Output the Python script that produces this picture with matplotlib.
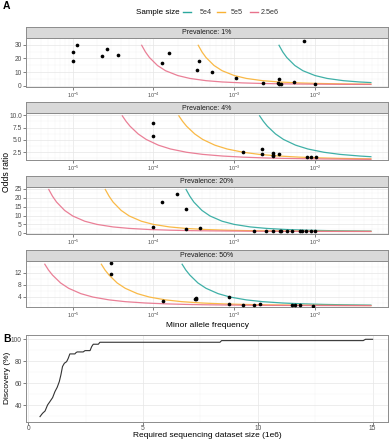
import matplotlib
matplotlib.use("Agg")
import matplotlib.pyplot as plt
import matplotlib.ticker as mticker
import numpy as np

# ---- data: panel A, odds ratio curves per sample size ----
prevalence = ["Prevalence: 1%", "Prevalence: 4%", "Prevalence: 20%", "Prevalence: 50%"]
sample_sizes = ["5e4", "5e5", "2.5e6"]

# panel 1 (1%)
p1_maf_5e4 = [3.55e-3, 3.98e-3, 4.47e-3, 5.62e-3, 7.08e-3, 1e-2, 1.41e-2, 2.24e-2, 3.55e-2, 0.05]
p1_or_5e4 = [30, 24.8, 20.7, 14.9, 11.1, 7.59, 5.50, 3.87, 2.93, 2.47]
p1_maf_5e5 = [3.55e-4, 3.98e-4, 4.47e-4, 5.62e-4, 7.08e-4, 1e-3, 1.41e-3, 2.24e-3, 3.55e-3, 6.31e-3,
              1.12e-2, 2.00e-2, 3.55e-2, 0.05]
p1_or_5e5 = [30, 24.8, 20.7, 14.9, 11.1, 7.59, 5.50, 3.87, 2.93, 2.24, 1.83, 1.57, 1.40, 1.33]
p1_maf_25e6 = [7.08e-5, 7.94e-5, 8.91e-5, 1.12e-4, 1.41e-4, 2.00e-4, 2.82e-4, 4.47e-4, 7.08e-4, 1.26e-3,
               2.24e-3, 3.98e-3, 7.08e-3, 2.24e-2, 0.05]
p1_or_25e6 = [30, 24.8, 20.7, 14.9, 11.1, 7.59, 5.50, 3.87, 2.93, 2.24, 1.83, 1.57, 1.40, 1.21, 1.14]

# panel 2 (4%)
p2_maf_5e4 = [2.04e-3, 2.29e-3, 2.57e-3, 3.24e-3, 4.07e-3, 5.75e-3, 8.13e-3, 1.29e-2, 2.04e-2, 3.63e-2, 0.05]
p2_or_5e4 = [10, 8.79, 7.78, 6.22, 5.10, 3.94, 3.17, 2.50, 2.07, 1.73, 1.59]
p2_maf_5e5 = [2.04e-4, 2.29e-4, 2.57e-4, 3.24e-4, 4.07e-4, 5.75e-4, 8.13e-4, 1.29e-3, 2.04e-3, 3.63e-3,
              6.46e-3, 1.15e-2, 2.04e-2, 0.05]
p2_or_5e5 = [10, 8.79, 7.78, 6.22, 5.10, 3.94, 3.17, 2.50, 2.07, 1.73, 1.51, 1.36, 1.26, 1.16]
p2_maf_25e6 = [4.07e-5, 4.57e-5, 5.13e-5, 6.46e-5, 8.13e-5, 1.15e-4, 1.62e-4, 2.57e-4, 4.07e-4, 7.24e-4,
               1.29e-3, 2.29e-3, 4.07e-3, 1.29e-2, 4.07e-2, 0.05]
p2_or_25e6 = [10, 8.79, 7.78, 6.22, 5.10, 3.94, 3.17, 2.50, 2.07, 1.73, 1.51, 1.36, 1.26, 1.14, 1.076, 1.068]

# panel 3 (20%)
p3_maf_5e4 = [2.51e-4, 2.82e-4, 3.16e-4, 3.98e-4, 5.01e-4, 7.08e-4, 1e-3, 1.58e-3, 2.51e-3, 4.47e-3,
              7.94e-3, 1.41e-2, 2.51e-2, 0.05]
p3_or_5e4 = [25, 20.9, 17.6, 12.9, 9.77, 6.81, 5.02, 3.60, 2.77, 2.14, 1.77, 1.53, 1.38, 1.26]
p3_maf_5e5 = [2.51e-5, 2.82e-5, 3.16e-5, 3.98e-5, 5.01e-5, 7.08e-5, 1e-4, 1.58e-4, 2.51e-4, 4.47e-4,
              7.94e-4, 1.41e-3, 2.51e-3, 7.94e-3, 2.51e-2, 0.05]
p3_or_5e5 = [25, 20.9, 17.6, 12.9, 9.77, 6.81, 5.02, 3.60, 2.77, 2.14, 1.77, 1.53, 1.38, 1.20, 1.107, 1.075]
p3_maf_25e6 = [5.01e-6, 5.62e-6, 6.31e-6, 7.94e-6, 1e-5, 1.41e-5, 2.00e-5, 3.16e-5, 5.01e-5, 8.91e-5,
               1.58e-4, 2.82e-4, 5.01e-4, 1.58e-3, 5.01e-3, 1.58e-2, 0.05]
p3_or_25e6 = [25, 20.9, 17.6, 12.9, 9.77, 6.81, 5.02, 3.60, 2.77, 2.14, 1.77, 1.53, 1.38, 1.20, 1.107,
              1.059, 1.033]

# panel 4 (50%)
p4_maf_5e4 = [2.24e-4, 2.51e-4, 2.82e-4, 3.55e-4, 4.47e-4, 6.31e-4, 8.91e-4, 1.41e-3, 2.24e-3, 3.98e-3,
              7.08e-3, 1.26e-2, 2.24e-2, 0.05]
p4_or_5e4 = [15, 12.9, 11.2, 8.58, 6.80, 5.02, 3.88, 2.94, 2.35, 1.90, 1.62, 1.43, 1.31, 1.20]
p4_maf_5e5 = [2.24e-5, 2.51e-5, 2.82e-5, 3.55e-5, 4.47e-5, 6.31e-5, 8.91e-5, 1.41e-4, 2.24e-4, 3.98e-4,
              7.08e-4, 1.26e-3, 2.24e-3, 7.08e-3, 2.24e-2, 0.05]
p4_or_5e5 = [15, 12.9, 11.2, 8.58, 6.80, 5.02, 3.88, 2.94, 2.35, 1.90, 1.62, 1.43, 1.31, 1.16, 1.089, 1.059]
p4_maf_25e6 = [4.47e-6, 5.01e-6, 5.62e-6, 7.08e-6, 8.91e-6, 1.26e-5, 1.78e-5, 2.82e-5, 4.47e-5, 7.94e-5,
               1.41e-4, 2.51e-4, 4.47e-4, 1.41e-3, 4.47e-3, 1.41e-2, 4.47e-2, 0.05]
p4_or_25e6 = [15, 12.9, 11.2, 8.58, 6.80, 5.02, 3.88, 2.94, 2.35, 1.90, 1.62, 1.43, 1.31, 1.16, 1.089,
              1.049, 1.027, 1.026]

# observed variants (points)
p1_pts_maf = [1e-5, 1e-5, 1.13e-5, 2.28e-5, 2.66e-5, 3.63e-5, 1.28e-4, 1.57e-4, 3.47e-4, 3.67e-4, 5.3e-4,
              1.05e-3, 2.25e-3, 3.6e-3, 3.5e-3, 3.6e-3, 3.8e-3, 5.5e-3, 7.4e-3, 1e-2]
p1_pts_or = [25, 18.4, 30, 21.8, 27.1, 22.5, 16.7, 24.2, 11.9, 17.9, 9.9,
             6.0, 1.9, 5.3, 2.4, 1.5, 1.7, 2.9, 32.4, 1.7]
p2_pts_maf = [1e-4, 1e-4, 1.27e-3, 2.23e-3, 2.23e-3, 3.05e-3, 3.05e-3, 3.05e-3, 3.62e-3, 8.05e-3, 8.9e-3, 1.03e-2]
p2_pts_or = [8.38, 5.81, 2.5, 3.1, 2.1, 2.36, 1.95, 1.76, 2.1, 1.62, 1.49, 1.49]
p3_pts_maf = [1e-4, 1.28e-4, 1.94e-4, 2.5e-4, 2.5e-4, 3.78e-4, 1.77e-3, 2.46e-3, 3.05e-3, 3.7e-3, 3.8e-3,
              4.55e-3, 5.25e-3, 6.53e-3, 6.8e-3, 7.8e-3, 8.8e-3, 1e-2]
p3_pts_or = [3.4, 17.9, 22.4, 13.7, 2.26, 2.8, 1.3, 1.2, 1.3, 1.15, 1.25,
             1.2, 1.15, 1.1, 1.2, 1.25, 1.15, 1.1]
p4_pts_maf = [2.95e-5, 2.95e-5, 1.3e-4, 3.36e-4, 3.4e-4, 3.3e-4, 8.63e-4, 8.63e-4, 1.27e-3, 1.77e-3, 2.09e-3,
              5.2e-3, 5.7e-3, 6.6e-3, 9.55e-3]
p4_pts_or = [15.2, 11.7, 2.56, 3.44, 3.1, 3.3, 3.78, 1.44, 1.22, 1.22, 1.44,
             1.1, 1.1, 1.1, 1.05]

# ---- data: panel B ----
dataset_size = [0.51, 0.62, 0.73, 0.84, 0.94, 1.06, 1.16, 1.26, 1.35, 1.42, 1.49, 1.57, 1.67, 1.74, 1.81,
                2.03, 2.08, 2.13, 2.39, 2.47, 2.69, 2.76, 2.83, 3.05, 3.12, 8.35, 8.42, 14.59, 14.69, 15.0]
discovery = [29.7, 32.7, 34.8, 40.3, 43.3, 47.0, 52.4, 56.4, 61.5, 67.6, 75.2, 78.2, 79.7, 82.7, 86.7,
             86.7, 87.9, 88.5, 88.5, 89.7, 89.7, 93.3, 95.5, 95.5, 97.3, 97.3, 98.8, 98.8, 100, 100]

colors = ["#2BA89E", "#F9B233", "#E8728C"]
W, H = 390, 440
fig = plt.figure(figsize=(W / 100, H / 100), dpi=100)
plt.rcParams['font.family'] = ['Liberation Sans', 'DejaVu Sans']

tick_col = "#4D4D4D"
border_col = "#8C8C8C"


def px_axes(left, top, right, bottom):
    return fig.add_axes([left / W, 1 - bottom / H, (right - left) / W, (bottom - top) / H])


def style_axes(ax):
    for s in ax.spines.values():
        s.set_color(border_col)
        s.set_linewidth(0.7)
    ax.tick_params(which='major', length=2, width=0.5, color=tick_col, labelsize=4.8,
                   labelcolor=tick_col, pad=1.0)
    ax.tick_params(which='minor', length=0)
    ax.grid(which='major', color="#E6E6E6", lw=0.5)
    ax.grid(which='minor', color="#F2F2F2", lw=0.3)
    ax.set_axisbelow(True)


panels = [
    dict(curves=[(p1_maf_5e4, p1_or_5e4), (p1_maf_5e5, p1_or_5e5), (p1_maf_25e6, p1_or_25e6)],
         pts=(p1_pts_maf, p1_pts_or), ylim=(-0.73, 34.9), yticks=[0, 10, 20, 30],
         ylab=["0", "10", "20", "30"], box=(38, 87)),
    dict(curves=[(p2_maf_5e4, p2_or_5e4), (p2_maf_5e5, p2_or_5e5), (p2_maf_25e6, p2_or_25e6)],
         pts=(p2_pts_maf, p2_pts_or), ylim=(0.83, 10.37), yticks=[2.5, 5.0, 7.5, 10.0],
         ylab=["2.5", "5.0", "7.5", "10.0"], box=(113.5, 160.5)),
    dict(curves=[(p3_maf_5e4, p3_or_5e4), (p3_maf_5e5, p3_or_5e5), (p3_maf_25e6, p3_or_25e6)],
         pts=(p3_pts_maf, p3_pts_or), ylim=(-0.38, 26.1), yticks=[0, 5, 10, 15, 20, 25],
         ylab=["0", "5", "10", "15", "20", "25"], box=(187, 234)),
    dict(curves=[(p4_maf_5e4, p4_or_5e4), (p4_maf_5e5, p4_or_5e5), (p4_maf_25e6, p4_or_25e6)],
         pts=(p4_pts_maf, p4_pts_or), ylim=(0.57, 15.9), yticks=[4, 8, 12],
         ylab=["4", "8", "12"], box=(261, 307)),
]

for i, p in enumerate(panels):
    top, bottom = p['box']
    ax = px_axes(26, top, 388, bottom)
    for (mx, oy), c in zip(p['curves'], colors):
        ax.plot(mx, oy, color=c, lw=0.9, alpha=0.9, solid_capstyle='butt')
    ax.scatter(p['pts'][0], p['pts'][1], s=7, color='black', zorder=5, linewidths=0)
    ax.set_xscale('log')
    ax.set_xlim(2.64e-6, 0.080)
    ax.set_ylim(*p['ylim'])
    ax.set_xticks([1e-5, 1e-4, 1e-3, 1e-2])
    ax.xaxis.set_major_formatter(mticker.LogFormatterMathtext())
    ax.xaxis.set_minor_locator(mticker.LogLocator(base=10, subs=np.arange(2, 10), numticks=20))
    ax.xaxis.set_minor_formatter(mticker.NullFormatter())
    ax.set_yticks(p['yticks'])
    ax.set_yticklabels(p['ylab'])
    ax.yaxis.set_minor_locator(mticker.AutoMinorLocator(2))
    style_axes(ax)
    ax.tick_params(axis='x', labelsize=4.0, pad=0.5)
    # facet strip
    sax = px_axes(26, top - 11, 388, top)
    sax.set_facecolor("#D9D9D9")
    sax.set_xticks([])
    sax.set_yticks([])
    for s in sax.spines.values():
        s.set_color(border_col)
        s.set_linewidth(0.7)
    sax.text(0.5, 0.5, prevalence[i], ha='center', va='center', fontsize=5, color="#1A1A1A",
             transform=sax.transAxes)

fig.text(7 / W, 1 - 172 / H, "Odds ratio", rotation=90, ha='center', va='center', fontsize=6.2)
fig.text(207 / W, 1 - 325 / H, "Minor allele frequency", ha='center', va='center', fontsize=6.0)

# legend
fig.text(158 / W, 1 - 12 / H, "Sample size", ha='center', va='center', fontsize=5.8)
leg_items = [(183, 200, "5e4"), (217, 231, "5e5"), (250, 261, "2.5e6")]
for (x0, tx, lab), c in zip(leg_items, colors):
    fig.add_artist(plt.Line2D([x0 / W, (x0 + 8) / W], [1 - 12 / H, 1 - 12 / H], color=c, lw=1.0))
    fig.text(tx / W, 1 - 12 / H, lab, ha='left', va='center', fontsize=5.2, color="#333333")

fig.text(3 / W, 1 - 6 / H, "A", fontsize=7.5, fontweight='bold', va='center', ha='left')

# panel B
axb = px_axes(26, 335, 388, 422)
axb.plot(dataset_size, discovery, color="#333333", lw=0.8)
axb.set_xlim(-0.1, 15.67)
axb.set_ylim(24.8, 103.9)
axb.set_xticks([0, 5, 10, 15])
axb.set_yticks([40, 60, 80, 100])
axb.xaxis.set_minor_locator(mticker.AutoMinorLocator(2))
axb.yaxis.set_minor_locator(mticker.AutoMinorLocator(2))
style_axes(axb)
axb.tick_params(axis='x', pad=0.5)
fig.text(8 / W, 1 - 378 / H, "Discovery (%)", rotation=90, ha='center', va='center', fontsize=6.0)
fig.text(207 / W, 1 - 435.5 / H, "Required sequencing dataset size (1e6)", ha='center', va='center',
         fontsize=6.0)
fig.text(3 / W, 1 - 339 / H, "B", fontsize=7.5, fontweight='bold', va='center', ha='left')

fig.savefig("out.png", dpi=100)
